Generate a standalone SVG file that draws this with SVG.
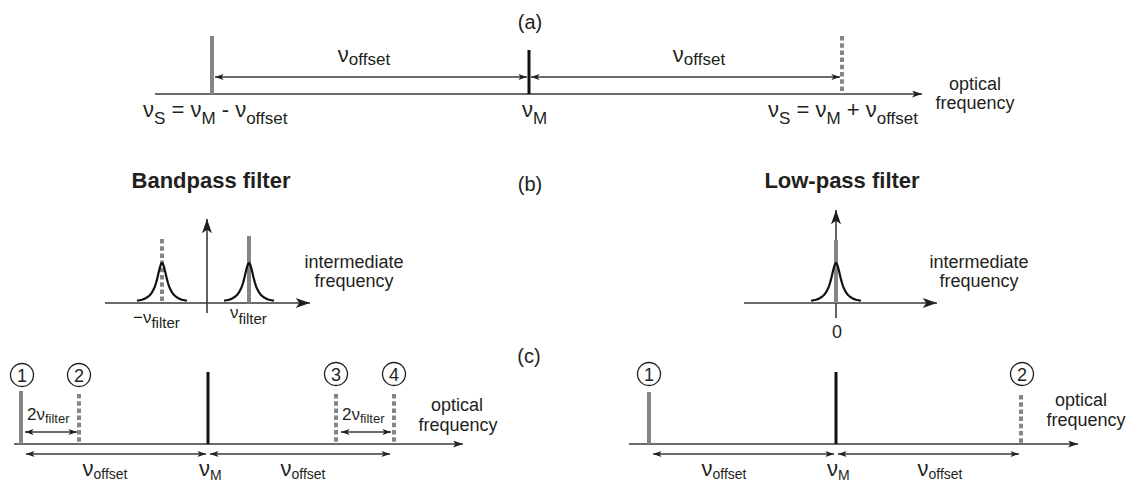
<svg xmlns="http://www.w3.org/2000/svg" width="1133" height="486" viewBox="0 0 1133 486">
<style>
text{font-family:"Liberation Sans",Arial,sans-serif;fill:#231f20}
.lbl{font-size:18px}
.pl{font-size:20px}
.big{font-size:22px}
.s17{font-size:17px}
.s14{font-size:14px}
.s13{font-size:13px}
.s15{font-size:15px}
.title{font-size:22px;font-weight:bold}
.axis{stroke:#3a3a3a;stroke-width:1.6;fill:none}
.dim{stroke:#3a3a3a;stroke-width:1.3;fill:none;marker-start:url(#ah);marker-end:url(#ah)}
.gray{stroke:#858585;stroke-width:4;fill:none}
.dash{stroke:#858585;stroke-width:4;fill:none;stroke-dasharray:4.5 2.7}
.black{stroke:#111;stroke-width:3;fill:none}
.lor{stroke:#111;stroke-width:2.2;fill:none;stroke-linejoin:round}
.circ{stroke:#231f20;stroke-width:1.3;fill:#fff}
</style>
<defs>
<marker id="ah" viewBox="0 0 10 7" refX="10" refY="3.5" markerWidth="9" markerHeight="6" markerUnits="userSpaceOnUse" orient="auto-start-reverse"><path d="M0,0 L10,3.5 L0,7 L2.5,3.5 z" fill="#231f20"/></marker>
<marker id="ax" viewBox="0 0 10 7" refX="10" refY="3.5" markerWidth="11" markerHeight="7" markerUnits="userSpaceOnUse" orient="auto"><path d="M0,0 L10,3.5 L0,7 L2.5,3.5 z" fill="#231f20"/></marker>
<marker id="axb" viewBox="0 0 10 7" refX="10" refY="3.5" markerWidth="15" markerHeight="10" markerUnits="userSpaceOnUse" orient="auto"><path d="M0,0 L10,3.5 L0,7 L2.5,3.5 z" fill="#231f20"/></marker>
<path id="lorc" d="M-25,-2.2 L-20,-3.3 L-17,-4.4 L-14,-6.2 L-12,-8 L-10,-10.6 L-8,-14.4 L-7,-16.9 L-6,-20 L-5,-23.6 L-4,-27.7 L-3,-32 L-2,-36 L-1,-38.9 L0,-40 L1,-38.9 L2,-36 L3,-32 L4,-27.7 L5,-23.6 L6,-20 L7,-16.9 L8,-14.4 L10,-10.6 L12,-8 L14,-6.2 L17,-4.4 L20,-3.3 L25,-2.2"/>
</defs>

<!-- Panel (a) -->
<g id="panel-a">
<text class="pl" x="530" y="29" text-anchor="middle">(a)</text>
<line class="axis" x1="155" y1="94" x2="922" y2="94" marker-end="url(#ax)"/>
<line class="gray" x1="212" y1="36" x2="212" y2="94"/>
<line class="black" x1="529" y1="50" x2="529" y2="94"/>
<line class="dash" x1="842" y1="36" x2="842" y2="94"/>
<text class="lbl" x="975" y="90" text-anchor="middle">optical</text>
<text class="lbl" x="975" y="109" text-anchor="middle">frequency</text>
<text class="big" x="364" y="62" text-anchor="middle">ν<tspan class="s17" dy="3">offset</tspan></text>
<text class="big" x="699" y="62" text-anchor="middle">ν<tspan class="s17" dy="3">offset</tspan></text>
<text class="big" x="143" y="117">ν<tspan class="s17" dy="7">S</tspan><tspan dy="-7"> = ν</tspan><tspan class="s17" dy="7">M</tspan><tspan dy="-7"> - ν</tspan><tspan class="s17" dy="7">offset</tspan></text>
<text class="big" x="522" y="117">ν<tspan class="s17" dy="7">M</tspan></text>
<text class="big" x="768" y="117">ν<tspan class="s17" dy="7">S</tspan><tspan dy="-7"> = ν</tspan><tspan class="s17" dy="7">M</tspan><tspan dy="-7"> + ν</tspan><tspan class="s17" dy="7">offset</tspan></text>
</g>

<!-- Panel (b) bandpass -->
<g id="panel-b-bandpass">
<text class="pl" x="530" y="191" text-anchor="middle">(b)</text>
<text class="title" x="211" y="188" text-anchor="middle">Bandpass filter</text>
<line class="axis" x1="105" y1="303" x2="310" y2="303" marker-end="url(#axb)"/>
<line class="axis" x1="207" y1="313" x2="207" y2="219" marker-end="url(#axb)"/>
<line class="dash" x1="162" y1="239" x2="162" y2="303"/>
<line class="gray" x1="249" y1="236" x2="249" y2="303"/>
<use href="#lorc" class="lor" x="162" y="303"/>
<use href="#lorc" class="lor" x="249" y="303"/>
<text class="lbl" x="354" y="268" text-anchor="middle">intermediate</text>
<text class="lbl" x="354" y="287" text-anchor="middle">frequency</text>
<text class="s17" x="133" y="323">−ν<tspan class="s15" dy="5">filter</tspan></text>
<text class="s17" x="230" y="318">ν<tspan class="s15" dy="6">filter</tspan></text>
</g>

<!-- Panel (b) low-pass -->
<g id="panel-b-lowpass">
<text class="title" x="842" y="188" text-anchor="middle">Low-pass filter</text>
<line class="axis" x1="744" y1="303" x2="937" y2="303" marker-end="url(#axb)"/>
<line class="axis" x1="836" y1="318" x2="836" y2="210" marker-end="url(#axb)"/>
<line class="gray" x1="836" y1="240" x2="836" y2="303"/>
<use href="#lorc" class="lor" x="836" y="303"/>
<text class="lbl" x="979" y="268" text-anchor="middle">intermediate</text>
<text class="lbl" x="979" y="287" text-anchor="middle">frequency</text>
<text class="lbl" x="837" y="338" text-anchor="middle">0</text>
</g>

<!-- Panel (c) bandpass -->
<g id="panel-c-bandpass">
<text class="pl" x="529" y="363" text-anchor="middle">(c)</text>
<line class="axis" x1="14" y1="444" x2="463" y2="444" marker-end="url(#ax)"/>
<line class="gray" x1="21" y1="391" x2="21" y2="444"/>
<line class="dash" x1="79" y1="394" x2="79" y2="444"/>
<line class="black" x1="208" y1="372" x2="208" y2="444"/>
<line class="dash" x1="336" y1="394" x2="336" y2="444"/>
<line class="dash" x1="394" y1="394" x2="394" y2="444"/>
<g id="c1-1"><circle class="circ" cx="22" cy="375" r="11.5"/><text class="lbl" x="22" y="381.5" text-anchor="middle">1</text></g>
<g id="c1-2"><circle class="circ" cx="79" cy="375" r="11.5"/><text class="lbl" x="79" y="381.5" text-anchor="middle">2</text></g>
<g id="c1-3"><circle class="circ" cx="336" cy="374" r="11.5"/><text class="lbl" x="336" y="380.5" text-anchor="middle">3</text></g>
<g id="c1-4"><circle class="circ" cx="394" cy="374" r="11.5"/><text class="lbl" x="394" y="380.5" text-anchor="middle">4</text></g>
<text class="s17" x="27" y="420">2ν<tspan class="s13" dy="3">filter</tspan></text>
<text class="s17" x="342" y="420">2ν<tspan class="s13" dy="3">filter</tspan></text>
<text class="lbl" x="457" y="411" text-anchor="middle">optical</text>
<text class="lbl" x="458" y="431" text-anchor="middle">frequency</text>
<text class="big" x="105" y="476" text-anchor="middle">ν<tspan class="s14" dy="3">offset</tspan></text>
<text class="big" x="199" y="476">ν<tspan class="s14" dy="4">M</tspan></text>
<text class="big" x="303" y="476" text-anchor="middle">ν<tspan class="s14" dy="3">offset</tspan></text>
</g>

<!-- Panel (c) low-pass -->
<g id="panel-c-lowpass">
<line class="axis" x1="629" y1="444" x2="1078" y2="444" marker-end="url(#ax)"/>
<line class="gray" x1="649" y1="392" x2="649" y2="444"/>
<line class="black" x1="836" y1="372" x2="836" y2="444"/>
<line class="dash" x1="1021" y1="395" x2="1021" y2="444"/>
<g id="c2-1"><circle class="circ" cx="649" cy="374" r="11.5"/><text class="lbl" x="649" y="380.5" text-anchor="middle">1</text></g>
<g id="c2-2"><circle class="circ" cx="1022" cy="374" r="11.5"/><text class="lbl" x="1022" y="380.5" text-anchor="middle">2</text></g>
<text class="lbl" x="1081" y="406" text-anchor="middle">optical</text>
<text class="lbl" x="1086" y="426" text-anchor="middle">frequency</text>
<text class="big" x="724" y="476" text-anchor="middle">ν<tspan class="s14" dy="3">offset</tspan></text>
<text class="big" x="827" y="476">ν<tspan class="s14" dy="4">M</tspan></text>
<text class="big" x="940" y="476" text-anchor="middle">ν<tspan class="s14" dy="3">offset</tspan></text>
</g>

<!-- Connectors (dimension arrows) -->
<g id="connectors">
<line class="dim" x1="215" y1="77" x2="527" y2="77"/>
<line class="dim" x1="531" y1="77" x2="840" y2="77"/>
<line class="dim" x1="25" y1="432" x2="77" y2="432"/>
<line class="dim" x1="341" y1="432" x2="391" y2="432"/>
<line class="dim" x1="26" y1="454" x2="206" y2="454"/>
<line class="dim" x1="210" y1="454" x2="390" y2="454"/>
<line class="dim" x1="653" y1="454" x2="834" y2="454"/>
<line class="dim" x1="838" y1="454" x2="1019" y2="454"/>
</g>
</svg>
